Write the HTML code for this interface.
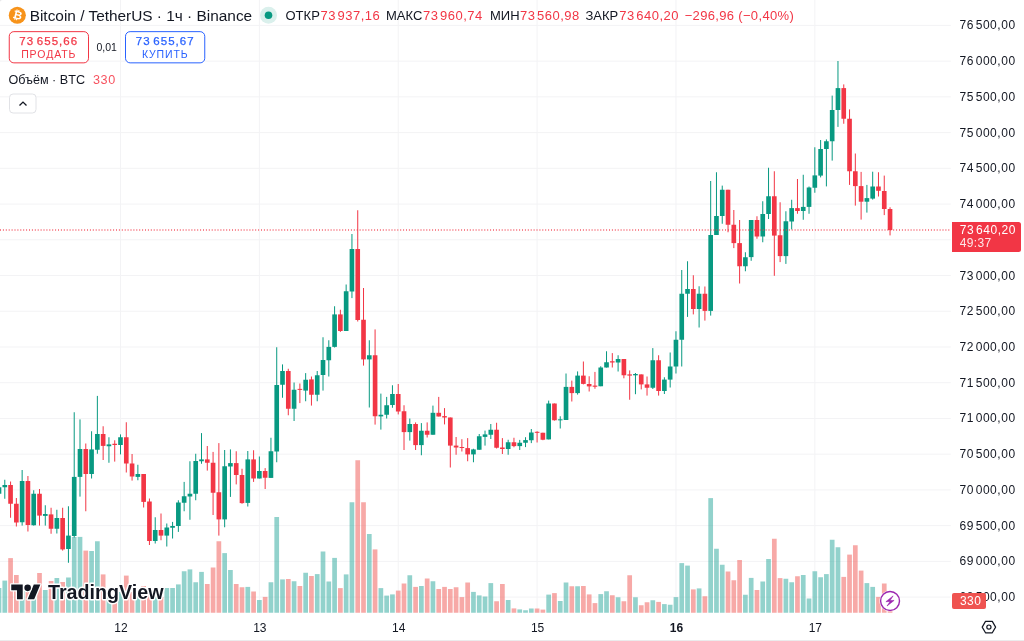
<!DOCTYPE html>
<html lang="ru"><head><meta charset="utf-8"><title>BTCUSDT</title>
<style>
html,body{margin:0;padding:0;background:#fff;}
body{width:1024px;height:641px;position:relative;overflow:hidden;font-family:"Liberation Sans",sans-serif;color:#131722;}
#chart{position:absolute;left:0;top:0;}
.pl{position:absolute;left:959.5px;width:60px;height:16px;line-height:16px;font-size:12px;white-space:nowrap;letter-spacing:0.55px;}
.ts{letter-spacing:-0.7px;}
.tl{position:absolute;top:619.5px;width:40px;text-align:center;font-size:12px;line-height:16px;}
.tl.b{font-weight:bold;}
.abs{position:absolute;white-space:nowrap;}
#title{left:29.7px;top:6.2px;font-size:15.4px;line-height:20px;}
.leg{top:8.15px;font-size:13px;line-height:16px;}
.leg.red{letter-spacing:0.46px;}
.leg .ts{letter-spacing:-0.9px;}
.red{color:#F23645;}
.btn{position:absolute;top:31px;height:31px;border:1px solid transparent;box-sizing:content-box;text-align:center;}
.btn .p{font-size:11.5px;font-weight:normal;-webkit-text-stroke:0.25px currentColor;line-height:13px;margin-top:3px;letter-spacing:1.03px;}
.btn .a{font-size:10.5px;line-height:12px;letter-spacing:0.9px;}
#sell{left:8.5px;width:78.5px;color:#F23645;}
#buy{left:125px;width:78.5px;color:#2962FF;}
#spread{left:96.5px;top:40px;font-size:10.5px;line-height:14px;}
#vol{left:8.5px;top:72px;font-size:12.6px;line-height:16px;}
#collapse{position:absolute;left:8.8px;top:93.4px;width:25.6px;height:18px;border:1px solid transparent;}
#bottomline{position:absolute;left:0;top:640px;width:1024px;height:1px;background:#EBEBEC;}
#plast{position:absolute;left:951.65px;top:221.6px;width:69.5px;height:28px;padding-top:2.1px;background:#F23645;border-radius:0 2.5px 2.5px 0;color:#fff;font-size:12px;line-height:13.1px;}
#plast div{padding-left:8.2px;white-space:nowrap;letter-spacing:0.55px;}
#vlast{position:absolute;left:951.9px;top:593.1px;width:26px;padding-left:8px;height:15.6px;background:#EF5350;border-radius:2px;color:#fff;font-size:12px;line-height:16.6px;letter-spacing:0.5px;}
</style></head><body>
<svg id="chart" width="1024" height="641" viewBox="0 0 1024 641" shape-rendering="auto">
<g fill="#F3F3F5"><rect x="0" y="24.9" width="950.75" height="1"/><rect x="0" y="60.63" width="950.75" height="1"/><rect x="0" y="96.36" width="950.75" height="1"/><rect x="0" y="132.09" width="950.75" height="1"/><rect x="0" y="167.82" width="950.75" height="1"/><rect x="0" y="203.55" width="950.75" height="1"/><rect x="0" y="239.28" width="950.75" height="1"/><rect x="0" y="275.01" width="950.75" height="1"/><rect x="0" y="310.74" width="950.75" height="1"/><rect x="0" y="346.47" width="950.75" height="1"/><rect x="0" y="382.2" width="950.75" height="1"/><rect x="0" y="417.93" width="950.75" height="1"/><rect x="0" y="453.66" width="950.75" height="1"/><rect x="0" y="489.39" width="950.75" height="1"/><rect x="0" y="525.12" width="950.75" height="1"/><rect x="0" y="560.85" width="950.75" height="1"/><rect x="0" y="596.58" width="950.75" height="1"/><rect x="120" y="0" width="1" height="612.75"/><rect x="258.86" y="0" width="1" height="612.75"/><rect x="397.73" y="0" width="1" height="612.75"/><rect x="536.59" y="0" width="1" height="612.75"/><rect x="675.46" y="0" width="1" height="612.75"/><rect x="814.32" y="0" width="1" height="612.75"/></g><g fill="rgba(38,166,154,0.5)"><rect x="-3.36" y="588" width="4.7" height="24.75"/><rect x="2.43" y="580.6" width="4.7" height="32.15"/><rect x="19.79" y="590" width="4.7" height="22.75"/><rect x="31.36" y="592" width="4.7" height="20.75"/><rect x="42.93" y="590" width="4.7" height="22.75"/><rect x="54.5" y="578" width="4.7" height="34.75"/><rect x="66.08" y="577.5" width="4.7" height="35.25"/><rect x="71.86" y="537" width="4.7" height="75.75"/><rect x="77.65" y="536.9" width="4.7" height="75.85"/><rect x="89.22" y="551" width="4.7" height="61.75"/><rect x="95.01" y="541.25" width="4.7" height="71.5"/><rect x="106.58" y="596" width="4.7" height="16.75"/><rect x="118.15" y="592" width="4.7" height="20.75"/><rect x="135.51" y="596" width="4.7" height="16.75"/><rect x="152.87" y="595" width="4.7" height="17.75"/><rect x="164.44" y="588" width="4.7" height="24.75"/><rect x="170.22" y="588" width="4.7" height="24.75"/><rect x="176.01" y="584.4" width="4.7" height="28.35"/><rect x="181.8" y="571.25" width="4.7" height="41.5"/><rect x="187.58" y="569.4" width="4.7" height="43.35"/><rect x="193.37" y="582.25" width="4.7" height="30.5"/><rect x="199.15" y="571.9" width="4.7" height="40.85"/><rect x="222.3" y="553.1" width="4.7" height="59.65"/><rect x="228.08" y="570" width="4.7" height="42.75"/><rect x="245.44" y="586.9" width="4.7" height="25.85"/><rect x="257.01" y="600" width="4.7" height="12.75"/><rect x="268.59" y="582.25" width="4.7" height="30.5"/><rect x="274.37" y="517" width="4.7" height="95.75"/><rect x="280.16" y="579.4" width="4.7" height="33.35"/><rect x="291.73" y="581.25" width="4.7" height="31.5"/><rect x="303.3" y="572.75" width="4.7" height="40"/><rect x="314.87" y="574.1" width="4.7" height="38.65"/><rect x="320.66" y="551.5" width="4.7" height="61.25"/><rect x="326.45" y="581.5" width="4.7" height="31.25"/><rect x="332.23" y="557.9" width="4.7" height="54.85"/><rect x="343.8" y="574.4" width="4.7" height="38.35"/><rect x="349.59" y="502.25" width="4.7" height="110.5"/><rect x="366.95" y="534" width="4.7" height="78.75"/><rect x="378.52" y="588.1" width="4.7" height="24.65"/><rect x="384.31" y="595.6" width="4.7" height="17.15"/><rect x="390.09" y="594.4" width="4.7" height="18.35"/><rect x="407.45" y="575.25" width="4.7" height="37.5"/><rect x="419.02" y="586" width="4.7" height="26.75"/><rect x="430.59" y="581.25" width="4.7" height="31.5"/><rect x="471.1" y="591.9" width="4.7" height="20.85"/><rect x="476.88" y="595.4" width="4.7" height="17.35"/><rect x="482.67" y="596.5" width="4.7" height="16.25"/><rect x="488.45" y="583.1" width="4.7" height="29.65"/><rect x="505.81" y="600" width="4.7" height="12.75"/><rect x="517.38" y="609.4" width="4.7" height="3.35"/><rect x="523.17" y="610.25" width="4.7" height="2.5"/><rect x="528.96" y="608.5" width="4.7" height="4.25"/><rect x="546.31" y="594.6" width="4.7" height="18.15"/><rect x="557.89" y="601" width="4.7" height="11.75"/><rect x="563.67" y="582.5" width="4.7" height="30.25"/><rect x="575.24" y="586.25" width="4.7" height="26.5"/><rect x="598.39" y="594.1" width="4.7" height="18.65"/><rect x="604.17" y="591.25" width="4.7" height="21.5"/><rect x="615.75" y="597.25" width="4.7" height="15.5"/><rect x="633.1" y="597.25" width="4.7" height="15.5"/><rect x="650.46" y="600.25" width="4.7" height="12.5"/><rect x="662.03" y="604.1" width="4.7" height="8.65"/><rect x="667.82" y="604.75" width="4.7" height="8"/><rect x="673.61" y="597.1" width="4.7" height="15.65"/><rect x="679.39" y="563.1" width="4.7" height="49.65"/><rect x="685.18" y="565.6" width="4.7" height="47.15"/><rect x="696.75" y="588.4" width="4.7" height="24.35"/><rect x="708.32" y="498.1" width="4.7" height="114.65"/><rect x="714.11" y="548.75" width="4.7" height="64"/><rect x="719.89" y="564.75" width="4.7" height="48"/><rect x="743.04" y="594.75" width="4.7" height="18"/><rect x="748.82" y="577.9" width="4.7" height="34.85"/><rect x="760.4" y="581.5" width="4.7" height="31.25"/><rect x="766.18" y="559" width="4.7" height="53.75"/><rect x="783.54" y="578.75" width="4.7" height="34"/><rect x="789.33" y="582.25" width="4.7" height="30.5"/><rect x="800.9" y="575" width="4.7" height="37.75"/><rect x="806.68" y="598.5" width="4.7" height="14.25"/><rect x="812.47" y="571.25" width="4.7" height="41.5"/><rect x="818.26" y="577.25" width="4.7" height="35.5"/><rect x="824.04" y="574.1" width="4.7" height="38.65"/><rect x="829.83" y="539.75" width="4.7" height="73"/><rect x="835.61" y="547.25" width="4.7" height="65.5"/><rect x="864.54" y="583.1" width="4.7" height="29.65"/><rect x="870.33" y="586.9" width="4.7" height="25.85"/></g><g fill="rgba(239,83,80,0.5)"><rect x="8.22" y="558.1" width="4.7" height="54.65"/><rect x="14" y="575" width="4.7" height="37.75"/><rect x="25.57" y="592" width="4.7" height="20.75"/><rect x="37.15" y="573" width="4.7" height="39.75"/><rect x="48.72" y="581" width="4.7" height="31.75"/><rect x="60.29" y="582" width="4.7" height="30.75"/><rect x="83.43" y="550.6" width="4.7" height="62.15"/><rect x="100.79" y="574.4" width="4.7" height="38.35"/><rect x="112.36" y="598" width="4.7" height="14.75"/><rect x="123.94" y="575.6" width="4.7" height="37.15"/><rect x="129.72" y="592" width="4.7" height="20.75"/><rect x="141.29" y="586" width="4.7" height="26.75"/><rect x="147.08" y="590" width="4.7" height="22.75"/><rect x="158.65" y="597" width="4.7" height="15.75"/><rect x="204.94" y="584" width="4.7" height="28.75"/><rect x="210.73" y="567.5" width="4.7" height="45.25"/><rect x="216.51" y="541.25" width="4.7" height="71.5"/><rect x="233.87" y="584" width="4.7" height="28.75"/><rect x="239.66" y="587.25" width="4.7" height="25.5"/><rect x="251.23" y="591.5" width="4.7" height="21.25"/><rect x="262.8" y="596.9" width="4.7" height="15.85"/><rect x="285.94" y="579" width="4.7" height="33.75"/><rect x="297.52" y="586" width="4.7" height="26.75"/><rect x="309.09" y="576" width="4.7" height="36.75"/><rect x="338.02" y="588.1" width="4.7" height="24.65"/><rect x="355.38" y="460.25" width="4.7" height="152.5"/><rect x="361.16" y="502.25" width="4.7" height="110.5"/><rect x="372.73" y="549.4" width="4.7" height="63.35"/><rect x="395.88" y="590.6" width="4.7" height="22.15"/><rect x="401.66" y="583.5" width="4.7" height="29.25"/><rect x="413.24" y="586.9" width="4.7" height="25.85"/><rect x="424.81" y="578.5" width="4.7" height="34.25"/><rect x="436.38" y="589" width="4.7" height="23.75"/><rect x="442.17" y="586.9" width="4.7" height="25.85"/><rect x="447.95" y="589" width="4.7" height="23.75"/><rect x="453.74" y="587.25" width="4.7" height="25.5"/><rect x="459.52" y="597.1" width="4.7" height="15.65"/><rect x="465.31" y="582.5" width="4.7" height="30.25"/><rect x="494.24" y="601.25" width="4.7" height="11.5"/><rect x="500.03" y="584" width="4.7" height="28.75"/><rect x="511.6" y="608.4" width="4.7" height="4.35"/><rect x="534.74" y="608.5" width="4.7" height="4.25"/><rect x="540.53" y="609.6" width="4.7" height="3.15"/><rect x="552.1" y="593.1" width="4.7" height="19.65"/><rect x="569.46" y="586.25" width="4.7" height="26.5"/><rect x="581.03" y="586" width="4.7" height="26.75"/><rect x="586.82" y="594.4" width="4.7" height="18.35"/><rect x="592.6" y="603.1" width="4.7" height="9.65"/><rect x="609.96" y="595.25" width="4.7" height="17.5"/><rect x="621.53" y="601.25" width="4.7" height="11.5"/><rect x="627.32" y="575.25" width="4.7" height="37.5"/><rect x="638.89" y="605.25" width="4.7" height="7.5"/><rect x="644.68" y="602.25" width="4.7" height="10.5"/><rect x="656.25" y="601.9" width="4.7" height="10.85"/><rect x="690.96" y="589.4" width="4.7" height="23.35"/><rect x="702.54" y="596.25" width="4.7" height="16.5"/><rect x="725.68" y="571.5" width="4.7" height="41.25"/><rect x="731.47" y="580.25" width="4.7" height="32.5"/><rect x="737.25" y="560" width="4.7" height="52.75"/><rect x="754.61" y="590" width="4.7" height="22.75"/><rect x="771.97" y="538.75" width="4.7" height="74"/><rect x="777.75" y="578.1" width="4.7" height="34.65"/><rect x="795.11" y="576.25" width="4.7" height="36.5"/><rect x="841.4" y="576.9" width="4.7" height="35.85"/><rect x="847.19" y="554.6" width="4.7" height="58.15"/><rect x="852.97" y="545.25" width="4.7" height="67.5"/><rect x="858.76" y="570.6" width="4.7" height="42.15"/><rect x="876.12" y="596.9" width="4.7" height="15.85"/><rect x="881.9" y="583.5" width="4.7" height="29.25"/><rect x="887.69" y="600" width="4.7" height="12.75"/></g><g fill="#089981"><rect x="-1.51" y="485" width="1" height="11"/><rect x="-3.33" y="487.25" width="4.65" height="6.5"/><rect x="4.28" y="479.75" width="1" height="19"/><rect x="2.46" y="485" width="4.65" height="2.25"/><rect x="21.64" y="470" width="1" height="55.6"/><rect x="19.81" y="481" width="4.65" height="41.25"/><rect x="33.21" y="490.25" width="1" height="35.35"/><rect x="31.39" y="493.75" width="4.65" height="31.5"/><rect x="44.78" y="505.25" width="1" height="20.35"/><rect x="42.96" y="514" width="4.65" height="1.9"/><rect x="56.35" y="509.75" width="1" height="23.75"/><rect x="54.53" y="518" width="4.65" height="10.75"/><rect x="67.93" y="506.25" width="1" height="56.5"/><rect x="66.1" y="535.6" width="4.65" height="13.4"/><rect x="73.71" y="412.25" width="1" height="125.25"/><rect x="71.89" y="476.9" width="4.65" height="59.1"/><rect x="79.5" y="419.4" width="1" height="77.2"/><rect x="77.67" y="449" width="4.65" height="27.9"/><rect x="91.07" y="431.25" width="1" height="47.25"/><rect x="89.24" y="449.4" width="4.65" height="24.6"/><rect x="96.86" y="395.9" width="1" height="57.85"/><rect x="95.03" y="434" width="4.65" height="15.75"/><rect x="108.43" y="437.25" width="1" height="25.5"/><rect x="106.6" y="444.4" width="4.65" height="1.85"/><rect x="120" y="434.4" width="1" height="20"/><rect x="118.17" y="437.25" width="4.65" height="7.75"/><rect x="137.36" y="464.75" width="1" height="15.5"/><rect x="135.53" y="474" width="4.65" height="2.9"/><rect x="154.72" y="517.25" width="1" height="26.25"/><rect x="152.89" y="530" width="4.65" height="11"/><rect x="166.29" y="523.5" width="1" height="23"/><rect x="164.46" y="527.5" width="4.65" height="8.1"/><rect x="172.07" y="521.9" width="1" height="16.6"/><rect x="170.25" y="526" width="4.65" height="1.75"/><rect x="177.86" y="500.25" width="1" height="31.65"/><rect x="176.04" y="502.5" width="4.65" height="23.5"/><rect x="183.65" y="481.9" width="1" height="29.35"/><rect x="181.82" y="496.25" width="4.65" height="6.5"/><rect x="189.43" y="461.25" width="1" height="58.5"/><rect x="187.61" y="493.75" width="4.65" height="2.75"/><rect x="195.22" y="453.75" width="1" height="46.5"/><rect x="193.39" y="461" width="4.65" height="32.75"/><rect x="201" y="433.1" width="1" height="30.65"/><rect x="199.18" y="459.4" width="4.65" height="1.85"/><rect x="224.15" y="450" width="1" height="77.25"/><rect x="222.32" y="466.25" width="4.65" height="53.15"/><rect x="229.93" y="449.4" width="1" height="47.5"/><rect x="228.11" y="463.1" width="4.65" height="3.4"/><rect x="247.29" y="451" width="1" height="55.5"/><rect x="245.47" y="459.4" width="4.65" height="43.5"/><rect x="258.86" y="456.5" width="1" height="22"/><rect x="257.04" y="471" width="4.65" height="7.5"/><rect x="270.44" y="437.75" width="1" height="40.15"/><rect x="268.61" y="451.25" width="4.65" height="26.65"/><rect x="276.22" y="347.25" width="1" height="115"/><rect x="274.4" y="385" width="4.65" height="66.5"/><rect x="282.01" y="364.4" width="1" height="33.35"/><rect x="280.18" y="371" width="4.65" height="13.75"/><rect x="293.58" y="382.5" width="1" height="38.5"/><rect x="291.75" y="389.75" width="4.65" height="19"/><rect x="305.15" y="373.1" width="1" height="28.15"/><rect x="303.33" y="379.75" width="4.65" height="10.85"/><rect x="316.72" y="371" width="1" height="30.25"/><rect x="314.9" y="375.25" width="4.65" height="19.5"/><rect x="322.51" y="337.25" width="1" height="53.35"/><rect x="320.69" y="360" width="4.65" height="15"/><rect x="328.3" y="340.25" width="1" height="36.25"/><rect x="326.47" y="346.9" width="4.65" height="13.35"/><rect x="334.08" y="306.25" width="1" height="41.25"/><rect x="332.26" y="314.4" width="4.65" height="32.5"/><rect x="345.65" y="284.5" width="1" height="46.5"/><rect x="343.83" y="291.25" width="4.65" height="39.75"/><rect x="351.44" y="234" width="1" height="64.1"/><rect x="349.62" y="249" width="4.65" height="42.5"/><rect x="368.8" y="340.25" width="1" height="67.25"/><rect x="366.97" y="355.25" width="4.65" height="4.15"/><rect x="380.37" y="393.6" width="1" height="36"/><rect x="378.55" y="414.75" width="4.65" height="1.65"/><rect x="386.16" y="396.9" width="1" height="21.6"/><rect x="384.33" y="405.25" width="4.65" height="9.5"/><rect x="391.94" y="385.25" width="1" height="22.5"/><rect x="390.12" y="394" width="4.65" height="11"/><rect x="409.3" y="418.5" width="1" height="22.1"/><rect x="407.47" y="424" width="4.65" height="8.1"/><rect x="420.87" y="423.1" width="1" height="32.15"/><rect x="419.05" y="430.75" width="4.65" height="14.35"/><rect x="432.44" y="405.6" width="1" height="29.15"/><rect x="430.62" y="412.8" width="4.65" height="21.95"/><rect x="472.95" y="448.75" width="1" height="13.5"/><rect x="471.12" y="449.4" width="4.65" height="5"/><rect x="478.73" y="434" width="1" height="15.75"/><rect x="476.91" y="436.25" width="4.65" height="13.5"/><rect x="484.52" y="430.6" width="1" height="15"/><rect x="482.69" y="434.4" width="4.65" height="2.5"/><rect x="490.3" y="424" width="1" height="15"/><rect x="488.48" y="429.75" width="4.65" height="5"/><rect x="507.66" y="439.75" width="1" height="15"/><rect x="505.84" y="442.25" width="4.65" height="6.75"/><rect x="519.23" y="439.9" width="1" height="10.1"/><rect x="517.41" y="442.75" width="4.65" height="3.35"/><rect x="525.02" y="437.2" width="1" height="9.9"/><rect x="523.19" y="440.1" width="4.65" height="2.65"/><rect x="530.81" y="429" width="1" height="14.1"/><rect x="528.98" y="432.5" width="4.65" height="7.75"/><rect x="548.16" y="400.6" width="1" height="38.8"/><rect x="546.34" y="403.5" width="4.65" height="35.9"/><rect x="559.74" y="416.25" width="1" height="12.25"/><rect x="557.91" y="419.32" width="4.65" height="1"/><rect x="565.52" y="373.5" width="1" height="46.5"/><rect x="563.7" y="386.9" width="4.65" height="33.1"/><rect x="577.09" y="371.4" width="1" height="23.2"/><rect x="575.27" y="375.6" width="4.65" height="17.5"/><rect x="600.24" y="366.25" width="1" height="20"/><rect x="598.41" y="367.5" width="4.65" height="18.75"/><rect x="606.02" y="351.25" width="1" height="16.25"/><rect x="604.2" y="362.25" width="4.65" height="5.25"/><rect x="617.6" y="355.25" width="1" height="16.25"/><rect x="615.77" y="359" width="4.65" height="3.5"/><rect x="634.95" y="373" width="1" height="21.2"/><rect x="633.13" y="374" width="4.65" height="1.3"/><rect x="652.31" y="348.1" width="1" height="40.9"/><rect x="650.49" y="360.25" width="4.65" height="27.5"/><rect x="663.88" y="377.25" width="1" height="16.75"/><rect x="662.06" y="379.6" width="4.65" height="11.4"/><rect x="669.67" y="352.5" width="1" height="35"/><rect x="667.84" y="366.5" width="4.65" height="13.1"/><rect x="675.46" y="331.25" width="1" height="42.25"/><rect x="673.63" y="339.75" width="4.65" height="26.75"/><rect x="681.24" y="270" width="1" height="96.5"/><rect x="679.42" y="293.75" width="4.65" height="46"/><rect x="687.03" y="261.25" width="1" height="55.65"/><rect x="685.2" y="289" width="4.65" height="4.75"/><rect x="698.6" y="286.25" width="1" height="41.25"/><rect x="696.77" y="293.75" width="4.65" height="15.25"/><rect x="710.17" y="181" width="1" height="134.6"/><rect x="708.35" y="235" width="4.65" height="75.9"/><rect x="715.96" y="172.25" width="1" height="62.75"/><rect x="714.13" y="216" width="4.65" height="19"/><rect x="721.74" y="185.6" width="1" height="38.15"/><rect x="719.92" y="189.75" width="4.65" height="26.25"/><rect x="744.89" y="252.25" width="1" height="19"/><rect x="743.06" y="257.25" width="4.65" height="9"/><rect x="750.67" y="220" width="1" height="40.8"/><rect x="748.85" y="220" width="4.65" height="37.1"/><rect x="762.25" y="201.25" width="1" height="41"/><rect x="760.42" y="214" width="4.65" height="22.5"/><rect x="768.03" y="167.75" width="1" height="51.25"/><rect x="766.21" y="196.25" width="4.65" height="17.75"/><rect x="785.39" y="211.25" width="1" height="52.65"/><rect x="783.56" y="221.25" width="4.65" height="34.85"/><rect x="791.18" y="199.75" width="1" height="29.65"/><rect x="789.35" y="208.1" width="4.65" height="13.4"/><rect x="802.75" y="174.75" width="1" height="45"/><rect x="800.92" y="206.9" width="4.65" height="4.1"/><rect x="808.53" y="186.5" width="1" height="27.25"/><rect x="806.71" y="187.5" width="4.65" height="19.4"/><rect x="814.32" y="147.25" width="1" height="45.5"/><rect x="812.49" y="175.4" width="4.65" height="12.35"/><rect x="820.11" y="140" width="1" height="37.4"/><rect x="818.28" y="149" width="4.65" height="26.6"/><rect x="825.89" y="139.4" width="1" height="47"/><rect x="824.07" y="141.25" width="4.65" height="7.75"/><rect x="831.68" y="95.6" width="1" height="65"/><rect x="829.85" y="110" width="4.65" height="31.25"/><rect x="837.46" y="61" width="1" height="65.9"/><rect x="835.64" y="88.1" width="4.65" height="21.9"/><rect x="866.39" y="184.9" width="1" height="27.7"/><rect x="864.57" y="198.1" width="4.65" height="3.6"/><rect x="872.18" y="171.7" width="1" height="27.9"/><rect x="870.35" y="186.5" width="4.65" height="12.1"/></g><g fill="#F23645"><rect x="10.07" y="481.5" width="1" height="36.25"/><rect x="8.24" y="485" width="4.65" height="18.75"/><rect x="15.85" y="498" width="1" height="28.5"/><rect x="14.03" y="503.75" width="4.65" height="18.75"/><rect x="27.42" y="476" width="1" height="55.5"/><rect x="25.6" y="481" width="4.65" height="44"/><rect x="39" y="489" width="1" height="36.6"/><rect x="37.17" y="493.75" width="4.65" height="21.85"/><rect x="50.57" y="507.75" width="1" height="26"/><rect x="48.74" y="514.4" width="4.65" height="14.35"/><rect x="62.14" y="507.75" width="1" height="42.85"/><rect x="60.31" y="518" width="4.65" height="31.4"/><rect x="85.28" y="443.5" width="1" height="67.75"/><rect x="83.46" y="449" width="4.65" height="25"/><rect x="102.64" y="426.25" width="1" height="33.75"/><rect x="100.82" y="434" width="4.65" height="11.9"/><rect x="114.21" y="440.25" width="1" height="21.35"/><rect x="112.39" y="443.75" width="4.65" height="1.25"/><rect x="125.79" y="422.25" width="1" height="50.25"/><rect x="123.96" y="437.25" width="4.65" height="26.25"/><rect x="131.57" y="454" width="1" height="26.6"/><rect x="129.75" y="463.5" width="4.65" height="13"/><rect x="143.14" y="474" width="1" height="33.5"/><rect x="141.32" y="474" width="4.65" height="27.9"/><rect x="148.93" y="498.5" width="1" height="46.5"/><rect x="147.11" y="501.5" width="4.65" height="39.5"/><rect x="160.5" y="513.5" width="1" height="26.75"/><rect x="158.68" y="530" width="4.65" height="5.6"/><rect x="206.79" y="446" width="1" height="24.6"/><rect x="204.97" y="459.4" width="4.65" height="3.35"/><rect x="212.58" y="451.9" width="1" height="63.1"/><rect x="210.75" y="462.75" width="4.65" height="30"/><rect x="218.36" y="443.1" width="1" height="92.5"/><rect x="216.54" y="492.25" width="4.65" height="27.15"/><rect x="235.72" y="451.25" width="1" height="33.15"/><rect x="233.9" y="463.1" width="4.65" height="11.9"/><rect x="241.51" y="468.75" width="1" height="35"/><rect x="239.68" y="475" width="4.65" height="28.1"/><rect x="253.08" y="450.25" width="1" height="31.65"/><rect x="251.25" y="459.4" width="4.65" height="19.1"/><rect x="264.65" y="468.1" width="1" height="20.9"/><rect x="262.82" y="471" width="4.65" height="6.75"/><rect x="287.79" y="368.75" width="1" height="46.5"/><rect x="285.97" y="371" width="4.65" height="37.75"/><rect x="299.37" y="383.5" width="1" height="19.6"/><rect x="297.54" y="388.88" width="4.65" height="1"/><rect x="310.94" y="376.5" width="1" height="29.1"/><rect x="309.11" y="379.4" width="4.65" height="15.35"/><rect x="339.87" y="309.75" width="1" height="22.15"/><rect x="338.04" y="314.4" width="4.65" height="16.6"/><rect x="357.23" y="210.25" width="1" height="111.25"/><rect x="355.4" y="249" width="4.65" height="71"/><rect x="363.01" y="288" width="1" height="77.6"/><rect x="361.19" y="319.75" width="4.65" height="39.65"/><rect x="374.58" y="329.4" width="1" height="95.2"/><rect x="372.76" y="355.25" width="4.65" height="61"/><rect x="397.73" y="384" width="1" height="30.4"/><rect x="395.9" y="394" width="4.65" height="17.5"/><rect x="403.51" y="405.25" width="1" height="44.75"/><rect x="401.69" y="411.25" width="4.65" height="20.85"/><rect x="415.09" y="422.4" width="1" height="27.6"/><rect x="413.26" y="424" width="4.65" height="21.1"/><rect x="426.66" y="422.4" width="1" height="15.1"/><rect x="424.83" y="430.75" width="4.65" height="4"/><rect x="438.23" y="396.9" width="1" height="19.6"/><rect x="436.4" y="412.8" width="4.65" height="3.7"/><rect x="444.02" y="408.1" width="1" height="16.3"/><rect x="442.19" y="416.1" width="4.65" height="1.4"/><rect x="449.8" y="417.5" width="1" height="50"/><rect x="447.98" y="417.5" width="4.65" height="28.1"/><rect x="455.59" y="437" width="1" height="17.75"/><rect x="453.76" y="445.6" width="4.65" height="1.9"/><rect x="461.37" y="439.2" width="1" height="12.3"/><rect x="459.55" y="447" width="4.65" height="1"/><rect x="467.16" y="438.1" width="1" height="23.15"/><rect x="465.33" y="448.1" width="4.65" height="6.3"/><rect x="496.09" y="422.75" width="1" height="25.75"/><rect x="494.26" y="429.75" width="4.65" height="18"/><rect x="501.88" y="438.1" width="1" height="15.9"/><rect x="500.05" y="447.5" width="4.65" height="1.5"/><rect x="513.45" y="437.75" width="1" height="9.5"/><rect x="511.62" y="442.25" width="4.65" height="3.85"/><rect x="536.59" y="431.25" width="1" height="11.25"/><rect x="534.77" y="431.82" width="4.65" height="1"/><rect x="542.38" y="432.75" width="1" height="7.45"/><rect x="540.55" y="432.75" width="4.65" height="7"/><rect x="553.95" y="403.5" width="1" height="17.1"/><rect x="552.12" y="403.5" width="4.65" height="16.75"/><rect x="571.31" y="380.6" width="1" height="20.9"/><rect x="569.48" y="386.9" width="4.65" height="6.2"/><rect x="582.88" y="361.5" width="1" height="22.9"/><rect x="581.05" y="375.6" width="4.65" height="8.3"/><rect x="588.67" y="376.25" width="1" height="15.25"/><rect x="586.84" y="384" width="4.65" height="2.4"/><rect x="594.45" y="371.9" width="1" height="16.85"/><rect x="592.63" y="385.6" width="4.65" height="1.15"/><rect x="611.81" y="353.1" width="1" height="14.4"/><rect x="609.98" y="361.25" width="4.65" height="1.25"/><rect x="623.38" y="359" width="1" height="19.3"/><rect x="621.56" y="359" width="4.65" height="16.25"/><rect x="629.17" y="370.4" width="1" height="29.35"/><rect x="627.34" y="374.4" width="4.65" height="1.2"/><rect x="640.74" y="374.4" width="1" height="15"/><rect x="638.91" y="374.4" width="4.65" height="10"/><rect x="646.53" y="376.5" width="1" height="19.1"/><rect x="644.7" y="384.4" width="4.65" height="3.35"/><rect x="658.1" y="355.25" width="1" height="40.35"/><rect x="656.27" y="360.25" width="4.65" height="30.75"/><rect x="692.81" y="275.25" width="1" height="39.15"/><rect x="690.99" y="289" width="4.65" height="20"/><rect x="704.39" y="286.5" width="1" height="34.1"/><rect x="702.56" y="293.75" width="4.65" height="17.15"/><rect x="727.53" y="189.75" width="1" height="42.5"/><rect x="725.7" y="189.75" width="4.65" height="35"/><rect x="733.32" y="210" width="1" height="38.1"/><rect x="731.49" y="224.75" width="4.65" height="18.35"/><rect x="739.1" y="220" width="1" height="63.5"/><rect x="737.28" y="243.1" width="4.65" height="23.15"/><rect x="756.46" y="216.25" width="1" height="22.5"/><rect x="754.63" y="220" width="4.65" height="16.5"/><rect x="773.82" y="171.25" width="1" height="104.55"/><rect x="771.99" y="196.25" width="4.65" height="39.35"/><rect x="779.6" y="202.25" width="1" height="59.85"/><rect x="777.78" y="235.25" width="4.65" height="20.85"/><rect x="796.96" y="179" width="1" height="34.75"/><rect x="795.14" y="208.1" width="4.65" height="2.9"/><rect x="843.25" y="84.4" width="1" height="39.35"/><rect x="841.42" y="88.1" width="4.65" height="30.65"/><rect x="849.04" y="109.4" width="1" height="75.5"/><rect x="847.21" y="118.75" width="4.65" height="52.5"/><rect x="854.82" y="153.5" width="1" height="52.1"/><rect x="853" y="171.25" width="4.65" height="14.85"/><rect x="860.61" y="171.9" width="1" height="47.7"/><rect x="858.78" y="186.1" width="4.65" height="15.6"/><rect x="877.97" y="172.25" width="1" height="24.25"/><rect x="876.14" y="186.5" width="4.65" height="4.3"/><rect x="883.75" y="175.6" width="1" height="39.5"/><rect x="881.93" y="191" width="4.65" height="18"/><rect x="889.54" y="207.25" width="1" height="28.15"/><rect x="887.71" y="209" width="4.65" height="21"/></g><line x1="0" y1="230" x2="950.75" y2="230" stroke="#F23645" stroke-width="1.5" stroke-dasharray="1 1.9" opacity="0.8"/>
<!-- tradingview logo -->
<g transform="translate(11.25 581.3) scale(0.8194)" stroke="#fff" stroke-width="3.2" stroke-linejoin="round" fill="#131722" paint-order="stroke">
<path d="M14 22H7V11H0V4h14v18zM28 22h-8l7.5-18h8L28 22z"/><circle cx="20" cy="8" r="4"/>
</g>
<text x="48" y="598.9" font-family="Liberation Sans, sans-serif" font-weight="bold" font-size="19.4" fill="#131722" stroke="#fff" stroke-width="2.8" stroke-linejoin="round" paint-order="stroke" textLength="115.5" lengthAdjust="spacingAndGlyphs">TradingView</text>
<!-- lightning -->
<circle cx="890.05" cy="601" r="10.6" fill="#fff"/>
<circle cx="890.05" cy="601" r="9.45" fill="#fff" stroke="#9C27B0" stroke-width="1.4"/>
<path d="M893.1 595.9 L885.9 601.7 L890.1 601.5 L887 606 L894.1 600.4 L890 600.6 Z" fill="#9C27B0" stroke="#9C27B0" stroke-width="0.6" stroke-linejoin="round"/>
<!-- gear -->
<path d="M982.2 627.1 L985.5 621.4 H992.3 L995.6 627.1 L992.3 632.8 H985.5 Z" fill="none" stroke="#131722" stroke-width="1.2" stroke-linejoin="round"/>
<circle cx="988.9" cy="627.1" r="2.1" fill="none" stroke="#131722" stroke-width="1.2"/>
<path d="M0 0 H2.6 A2.6 2.6 0 0 0 0 2.6 Z" fill="#E6E6E8"/>
<!-- buttons -->
<rect x="9.25" y="31.65" width="79.25" height="31.2" rx="4.6" fill="#fff" stroke="#F23645" stroke-width="1"/>
<rect x="125.5" y="31.65" width="79.25" height="31.2" rx="4.6" fill="#fff" stroke="#2962FF" stroke-width="1"/>
<rect x="9.5" y="94" width="26.5" height="19" rx="3.6" fill="#fff" stroke="#E1E2E6" stroke-width="1"/>
<!-- btc icon -->
<circle cx="17.3" cy="15.2" r="8.55" fill="#F7931A"/>
<!-- status dot -->
<circle cx="268.5" cy="15.25" r="8.5" fill="#DAF0EC"/>
<circle cx="268.5" cy="15.25" r="3.8" fill="#089981"/>
</svg>
<div class="abs" style="left:12.9px;top:9.3px;font-size:11.3px;line-height:12px;font-weight:bold;color:#fff;transform:rotate(14deg);">₿</div>
<div id="title" class="abs">Bitcoin / TetherUS · 1ч · Binance</div>
<div class="abs leg" style="left:285.5px">ОТКР</div><div class="abs leg red" style="left:320.5px">73<span class="ts">&#8201;</span>937,16</div>
<div class="abs leg" style="left:386px">МАКС</div><div class="abs leg red" style="left:423px">73<span class="ts">&#8201;</span>960,74</div>
<div class="abs leg" style="left:490px">МИН</div><div class="abs leg red" style="left:520px">73<span class="ts">&#8201;</span>560,98</div>
<div class="abs leg" style="left:585.5px">ЗАКР</div><div class="abs leg red" style="left:619.25px">73<span class="ts">&#8201;</span>640,20</div>
<div class="abs leg red" style="left:684.7px;letter-spacing:0.33px">−296,96 (−0,40%)</div>
<div id="sell" class="btn"><div class="p">73<span style="letter-spacing:0.3px">&#8201;</span>655,66</div><div class="a">ПРОДАТЬ</div></div>
<div id="spread" class="abs">0,01</div>
<div id="buy" class="btn"><div class="p">73<span style="letter-spacing:0.3px">&#8201;</span>655,67</div><div class="a">КУПИТЬ</div></div>
<div id="vol" class="abs">Объём · BTC <span style="color:#F7525F;margin-left:4.5px;letter-spacing:0.6px">330</span></div>
<div id="collapse"><svg width="25.6" height="18" viewBox="0 0 25.6 18" style="position:absolute;left:0;top:0"><path d="M9.5 11.4 L13 8.1 L16.5 11.4" fill="none" stroke="#131722" stroke-width="1.4"/></svg></div>
<div class="pl" style="top:17.4px">76<span class="ts">&#8201;</span>500,00</div><div class="pl" style="top:53.13px">76<span class="ts">&#8201;</span>000,00</div><div class="pl" style="top:88.86px">75<span class="ts">&#8201;</span>500,00</div><div class="pl" style="top:124.59px">75<span class="ts">&#8201;</span>000,00</div><div class="pl" style="top:160.32px">74<span class="ts">&#8201;</span>500,00</div><div class="pl" style="top:196.05px">74<span class="ts">&#8201;</span>000,00</div><div class="pl" style="top:231.78px">73<span class="ts">&#8201;</span>500,00</div><div class="pl" style="top:267.51px">73<span class="ts">&#8201;</span>000,00</div><div class="pl" style="top:303.24px">72<span class="ts">&#8201;</span>500,00</div><div class="pl" style="top:338.97px">72<span class="ts">&#8201;</span>000,00</div><div class="pl" style="top:374.7px">71<span class="ts">&#8201;</span>500,00</div><div class="pl" style="top:410.43px">71<span class="ts">&#8201;</span>000,00</div><div class="pl" style="top:446.16px">70<span class="ts">&#8201;</span>500,00</div><div class="pl" style="top:481.89px">70<span class="ts">&#8201;</span>000,00</div><div class="pl" style="top:517.62px">69<span class="ts">&#8201;</span>500,00</div><div class="pl" style="top:553.35px">69<span class="ts">&#8201;</span>000,00</div><div class="pl" style="top:589.08px">68<span class="ts">&#8201;</span>500,00</div>
<div class="tl" style="left:101px">12</div><div class="tl" style="left:239.86px">13</div><div class="tl" style="left:378.73px">14</div><div class="tl" style="left:517.59px">15</div><div class="tl b" style="left:656.46px">16</div><div class="tl" style="left:795.32px">17</div>
<div id="plast"><div>73<span class="ts">&#8201;</span>640,20</div><div style="opacity:.88;letter-spacing:0.3px">49:37</div></div>
<div id="vlast">330</div>
<div id="bottomline"></div>
</body></html>
